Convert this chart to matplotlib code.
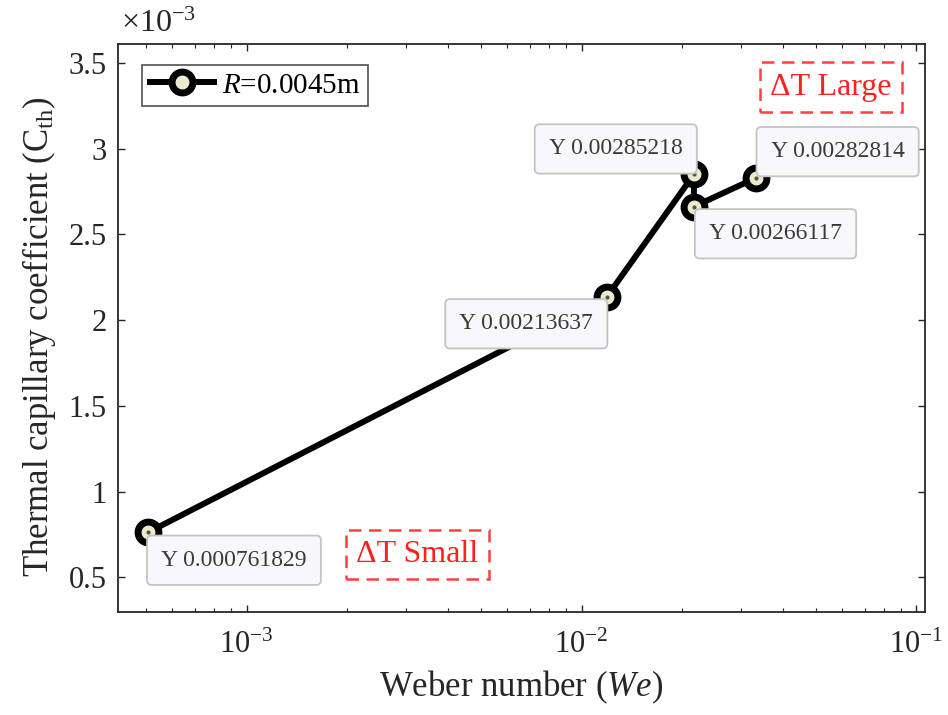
import matplotlib
matplotlib.use("Agg")
import matplotlib.pyplot as plt
from matplotlib.ticker import FuncFormatter, LogLocator

plt.rcParams['font.family'] = ['Liberation Serif', 'DejaVu Serif']
plt.rcParams['mathtext.fontset'] = 'custom'
plt.rcParams['mathtext.rm'] = 'Liberation Serif'
plt.rcParams['mathtext.it'] = 'Liberation Serif:italic'
plt.rcParams['mathtext.bf'] = 'Liberation Serif:bold'

# Data
weber = [5.07e-4, 0.0119, 0.0217, 0.0216, 0.0331]
cth = [0.000761829, 0.00213637, 0.00285218, 0.00266117, 0.00282814]
series_label = r'$\mathit{R}$=0.0045m'
tip_offsets_pt = [(62, -20), (-58, -19.5), (-56.5, 18), (59, -19.5), (59, 19)]
yticks = [0.5e-3, 1.0e-3, 1.5e-3, 2.0e-3, 2.5e-3, 3.0e-3, 3.5e-3]

axc = '#262626'
fig = plt.figure(figsize=(9.48, 7.15), dpi=100)
ax = fig.add_axes([0.1245, 0.1445, 0.8512, 0.794])

ax.plot(weber, cth, color='black', lw=4.3, marker='o', ms=15, mew=5,
        mec='black', mfc='#ecebd0', label=series_label, zorder=3)
ax.plot(weber, cth, ls='none', marker='o', ms=3, mfc='#555544', mec='none', zorder=4)

ax.set_xscale('log')
ax.set_xlim(4.13e-4, 0.106)
ax.set_ylim(0.3e-3, 3.61e-3)
ax.set_yticks(yticks)
ax.yaxis.set_major_formatter(FuncFormatter(lambda v, p: f"{v*1e3:g}"))
ax.xaxis.set_minor_locator(LogLocator(base=10, subs=range(2, 10)))

for s in ax.spines.values():
    s.set_color(axc)
    s.set_linewidth(1.3)
ax.tick_params(which='both', direction='in', top=True, right=True, colors=axc,
               labelsize=22)
ax.tick_params(which='major', length=5, width=1.0)
ax.tick_params(which='minor', length=3, width=0.8)
ax.tick_params(axis='y', pad=8)
ax.tick_params(axis='x', pad=14)

ax.text(0.004, 1.008, r'$\times10^{-3}$', transform=ax.transAxes, ha='left',
        va='bottom', fontsize=23, color=axc)

ax.set_xlabel(r'Weber number ($\mathit{We}$)', fontsize=25, color=axc)
ax.set_ylabel(r'Thermal capillary coefficient (C$_{\mathrm{th}}$)', fontsize=25, color=axc)
ax.xaxis.set_label_coords(0.5, -0.1)
ax.yaxis.set_label_coords(-0.075, 0.484)

for x, y, off in zip(weber, cth, tip_offsets_pt):
    ax.annotate(f"Y {y:g}", xy=(x, y), xytext=off, textcoords='offset points',
                ha='center', va='center', fontsize=17, color='#3a3a3a', zorder=5,
                bbox=dict(boxstyle='round,pad=0.6,rounding_size=0.2',
                          fc='#f8f8fc', ec='#c4c4c4', lw=1.3))

for txt, pos in [('ΔT Large', (0.883, 0.924)), ('ΔT Small', (0.371, 0.101))]:
    ax.text(pos[0], pos[1], txt, transform=ax.transAxes, ha='center', va='center',
            fontsize=23, color='#ff2020', zorder=6,
            bbox=dict(boxstyle='square,pad=0.32', fc='white', ec='#ff4040', lw=1.8,
                      ls=(0, (5, 3))))

leg = ax.legend(loc='upper left', bbox_to_anchor=(0.03, 0.963), fontsize=21,
                frameon=True, fancybox=False, edgecolor=axc, handlelength=2.2,
                borderpad=0.25, handletextpad=0.3, borderaxespad=0)
leg.get_frame().set_linewidth(1.2)

fig.savefig('out.png', dpi=100)
